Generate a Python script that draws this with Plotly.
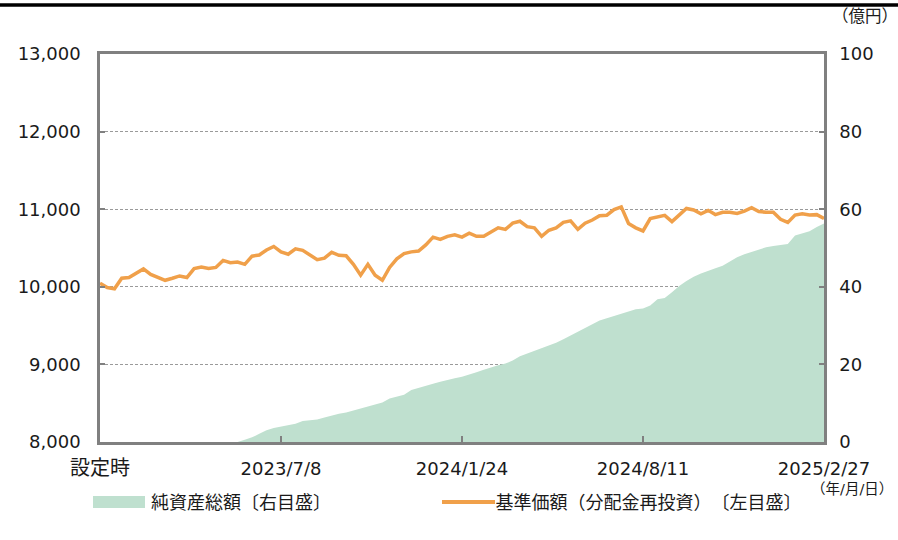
import plotly.graph_objects as go
import pandas as pd

# ---- data ----
start_date = "2022-12-20"
end_date = "2025-02-27"
dates = pd.date_range(start_date, end_date, freq="8D")

nav = [
    10045, 9990, 9975, 10110, 10120, 10175, 10230, 10160, 10126, 10084,
    10110, 10140, 10119, 10235, 10255, 10235, 10250, 10340, 10310, 10320,
    10290, 10395, 10410, 10475, 10520, 10450, 10420, 10490, 10470, 10410,
    10350, 10370, 10445, 10406, 10400, 10290, 10150, 10290, 10150, 10084,
    10250, 10360, 10428, 10450, 10460, 10540, 10640, 10610, 10650, 10670,
    10640, 10690, 10650, 10650, 10707, 10760, 10740, 10820, 10845, 10775,
    10760, 10650, 10729, 10760, 10830, 10850, 10740, 10820, 10860, 10915,
    10923, 10995, 11030, 10815, 10760, 10720, 10880, 10895, 10920, 10840,
    10930, 11010, 10990, 10940, 10985, 10930, 10960, 10960, 10945, 10975,
    11020, 10970, 10960, 10960, 10870, 10830, 10925, 10940, 10925, 10930,
    10880,
]

net_assets = [
    0, 0, 0, 0, 0, 0, 0, 0, 0, 0,
    0, 0, 0, 0, 0, 0, 0, 0, 0, 0,
    0.6, 1.2, 2.1, 3.0, 3.6, 4.0, 4.3, 4.7, 5.4, 5.6,
    5.8, 6.3, 6.9, 7.3, 7.6, 8.1, 8.8, 9.2, 9.6, 10.2,
    11.2, 11.7, 12.2, 13.4, 14.0, 14.6, 15.0, 15.5, 16.0, 16.4,
    16.8, 17.5, 18.0, 18.6, 19.3, 19.8, 20.2, 21.0, 22.1, 22.8,
    23.5, 24.1, 25.0, 25.6, 26.5, 27.5, 28.5, 29.5, 30.4, 31.3,
    31.9, 32.5, 33.2, 33.8, 34.2, 34.4, 35.2, 36.8, 37.1, 38.6,
    40.2, 41.5, 42.6, 43.4, 44.2, 44.8, 45.4, 46.6, 47.6, 48.4,
    49.0, 49.7, 50.2, 50.5, 50.8, 51.0, 53.2, 53.8, 54.3, 55.4,
    56.3,
]

tick_dates = ["2022-12-20", "2023-07-08", "2024-01-24", "2024-08-11", "2025-02-27"]
tick_labels = ['<span style="font-size:20px">設定時</span>',
               "2023/7/8", "2024/1/24", "2024/8/11", "2025/2/27"]
left_ticks = [8000, 9000, 10000, 11000, 12000, 13000]
right_ticks = [0, 20, 40, 60, 80, 100]

name_assets = "純資産総額〔右目盛〕"
name_nav = "基準価額（分配金再投資）〔左目盛〕"

# ---- styling ----
W, H = 898, 540
ML, MR, MT, MB = 100, 74, 54, 98
PW, PH = W - ML - MR, H - MT - MB
FONT = "DejaVu Sans, Noto Sans CJK JP, sans-serif"
CJK = "Noto Sans CJK JP, sans-serif"
TXT = "#1a1a1a"
AXC = "#808080"
GREEN = "#BFE0CF"
ORANGE = "#F0A04A"


def px_x(p):
    return (p - ML) / PW


def px_y(p):
    return (H - MB - p) / PH


fig = go.Figure()
fig.add_trace(go.Scatter(
    x=dates, y=net_assets, name=name_assets, mode="lines",
    line=dict(width=0, color=GREEN), fill="tozeroy", fillcolor=GREEN,
    yaxis="y", showlegend=False, hoverinfo="skip",
))
fig.add_trace(go.Scatter(
    x=dates, y=nav, name=name_nav, mode="lines",
    line=dict(width=3.5, color=ORANGE), yaxis="y2", showlegend=False,
))

fig.update_layout(
    width=W, height=H,
    margin=dict(l=ML, r=MR, t=MT, b=MB),
    paper_bgcolor="white", plot_bgcolor="white",
    font=dict(family=FONT, size=18, color=TXT),
    xaxis=dict(
        range=[start_date, end_date], tickvals=tick_dates, ticktext=tick_labels,
        showline=True, linecolor=AXC, linewidth=2.5, mirror=True,
        ticks="inside", ticklen=6, tickwidth=2, tickcolor=AXC,
        showgrid=False, zeroline=False, ticklabelstandoff=9,
        tickfont=dict(size=18, color=TXT),
    ),
    yaxis=dict(
        side="right", range=[0, 100], tickvals=right_ticks,
        showline=True, linecolor=AXC, linewidth=2.5,
        ticks="inside", ticklen=5, tickwidth=2, tickcolor=AXC,
        showgrid=True, gridcolor="#9a9a9a", gridwidth=1, griddash="3px,2px",
        zeroline=False, ticklabelstandoff=9,
        tickfont=dict(size=18, color=TXT),
    ),
    yaxis2=dict(
        side="left", overlaying="y", range=[8000, 13000], tickvals=left_ticks,
        tickformat=",d",
        showline=True, linecolor=AXC, linewidth=2.5,
        ticks="inside", ticklen=5, tickwidth=2, tickcolor=AXC,
        showgrid=False, zeroline=False, ticklabelstandoff=13,
        tickfont=dict(size=18, color=TXT),
    ),
    showlegend=False,
)

shapes = [
    # top black rule
    dict(type="line", xref="paper", yref="paper",
         x0=px_x(0), x1=px_x(W), y0=px_y(5), y1=px_y(5),
         line=dict(color="black", width=3.5)),
    # legend swatch: area
    dict(type="rect", xref="paper", yref="paper",
         x0=px_x(93), x1=px_x(145), y0=px_y(508), y1=px_y(496),
         fillcolor=GREEN, line=dict(width=0)),
    # legend swatch: line
    dict(type="line", xref="paper", yref="paper",
         x0=px_x(442), x1=px_x(495), y0=px_y(502), y1=px_y(502),
         line=dict(color=ORANGE, width=4)),
]
annotations = [
    dict(text="（億円）", xref="paper", yref="paper", x=px_x(865), y=px_y(17),
         showarrow=False, font=dict(size=16.5, color=TXT), xanchor="center", yanchor="middle"),
    dict(text="（年/月/日）", xref="paper", yref="paper", x=px_x(895), y=px_y(489),
         showarrow=False, font=dict(size=14.5, color=TXT), xanchor="right", yanchor="middle"),
    dict(text=name_assets, xref="paper", yref="paper", x=px_x(149), y=px_y(501),
         showarrow=False, font=dict(family=CJK, size=18, color=TXT),
         xanchor="left", yanchor="middle"),
    dict(text=name_nav, xref="paper", yref="paper", x=px_x(498), y=px_y(501),
         showarrow=False, font=dict(family=CJK, size=18, color=TXT),
         xanchor="left", yanchor="middle"),
]
fig.update_layout(shapes=shapes, annotations=annotations)

post_js = (
    "document.body.style.margin='0px';"
    "var st=document.createElement('style');"
    "st.textContent='.annotation[data-index=\"2\"] text, .annotation[data-index=\"3\"] text"
    "{text-spacing-trim:space-all;}';"
    "document.head.appendChild(st);"
)
fig.write_html("out.html", post_script=post_js, config={"displayModeBar": False})
